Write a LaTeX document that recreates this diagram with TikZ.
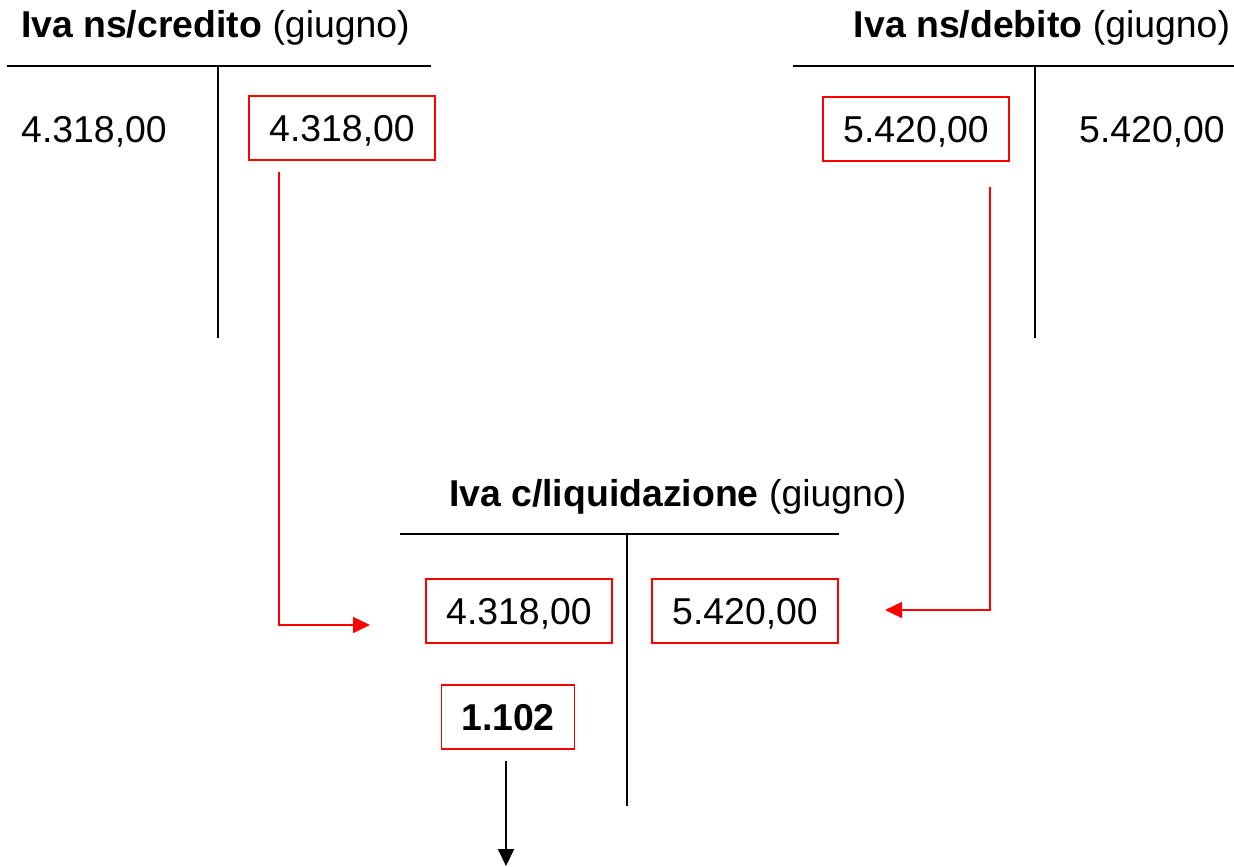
\documentclass[tikz,border=0pt]{standalone}
\usepackage{fontspec}
\setmainfont{Liberation Sans}
\usetikzlibrary{arrows.meta}
\begin{document}
\begin{tikzpicture}[x=0.5pt, y=-0.5pt, line width=1pt,
  txt/.style={inner sep=0pt, font=\fontsize{18.7}{22}\selectfont},
  box/.style={txt, draw=red, line width=.7pt, minimum width=93pt, minimum height=32pt, text height=13.4pt, text depth=0pt},
  rarrow/.style={red, line width=.7pt, -{Triangle[length=8.5pt, width=8pt]}}]
\useasboundingbox (0,0) rectangle (1234,866);

% Iva ns/credito
\node[txt, anchor=base west] (titC) at (20,38) {\textbf{Iva ns/credito} (giugno)};
\draw (7,66) -- (431,66);
\draw (218,66) -- (218,338);
\node[txt, anchor=base] (creD) at (94,143) {4.318,00};
\node[box] (creA) at (342,128) {4.318,00};

% Iva ns/debito
\node[txt, anchor=base east] (titD) at (1231,38) {\textbf{Iva ns/debito} (giugno)};
\draw (793,66) -- (1234,66);
\draw (1035,66) -- (1035,338);
\node[box] (debD) at (916,129) {5.420,00};
\node[txt, anchor=base] (debA) at (1152,143) {5.420,00};

% Iva c/liquidazione
\node[txt, anchor=base west] (titL) at (448,506) {\textbf{Iva c/liquidazione} (giugno)};
\draw (400,534) -- (839,534);
\draw (627,534) -- (627,806);
\node[box] (liqD) at (519,611) {4.318,00};
\node[box] (liqA) at (745,611) {5.420,00};
\node[box, minimum width=66.5pt] (saldo) at (508,717) {\textbf{1.102}};

% giroconti
\coordinate (c1) at (279,172);
\coordinate (c2) at (370,625);
\draw[rarrow] (c1) |- (c2);
\coordinate (d1) at (990,187);
\coordinate (d2) at (885,610);
\draw[rarrow] (d1) |- (d2);
\coordinate (s1) at (506,866);
\draw[-{Triangle[length=8.5pt, width=8pt]}] ([yshift=-5.5pt]saldo.south -| s1) -- (s1);
\end{tikzpicture}
\end{document}
